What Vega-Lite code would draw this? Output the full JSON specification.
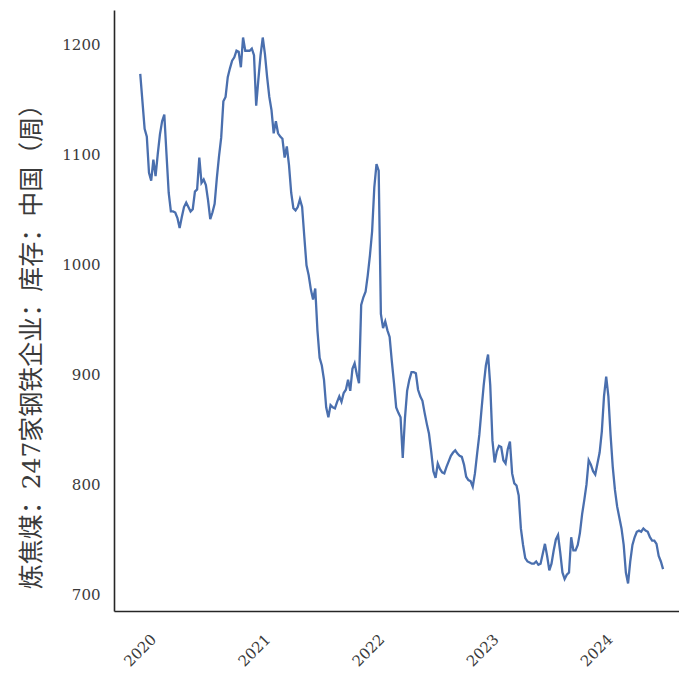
{
  "$schema": "https://vega.github.io/schema/vega-lite/v6.json",
  "autosize": {"type": "none"},
  "width": 575,
  "height": 601,
  "padding": {"left": 114, "top": 10, "right": 0, "bottom": 66},
  "background": "white",
  "config": {
    "view": {"stroke": null},
    "axis": {"grid": false, "ticks": false, "tickSize": 0, "domainColor": "#262626", "domainWidth": 1.6,
             "labelFont": "DejaVu Serif", "labelFontSize": 15, "labelColor": "#3a3a3a",
             "titleFont": "DejaVu Serif, Noto Sans CJK SC", "titleFontWeight": "normal", "titleColor": "#3a3a3a", "titleFontSize": 25}
  },
  "data": {"values": [
{"d":"2020-01-03","v":1173},{"d":"2020-01-10","v":1148},{"d":"2020-01-17","v":1123},{"d":"2020-01-24","v":1116},{"d":"2020-01-31","v":1083},{"d":"2020-02-07","v":1076},{"d":"2020-02-14","v":1095},{"d":"2020-02-21","v":1080},{"d":"2020-02-28","v":1100},{"d":"2020-03-06","v":1118},{"d":"2020-03-13","v":1130},{"d":"2020-03-20","v":1136},{"d":"2020-03-27","v":1100},{"d":"2020-04-03","v":1065},{"d":"2020-04-10","v":1048},{"d":"2020-04-17","v":1048},{"d":"2020-04-24","v":1047},{"d":"2020-05-01","v":1042},{"d":"2020-05-08","v":1033},{"d":"2020-05-15","v":1043},{"d":"2020-05-22","v":1052},{"d":"2020-05-29","v":1056},{"d":"2020-06-05","v":1052},{"d":"2020-06-12","v":1048},{"d":"2020-06-19","v":1050},{"d":"2020-06-26","v":1066},{"d":"2020-07-03","v":1068},{"d":"2020-07-10","v":1097},{"d":"2020-07-17","v":1074},{"d":"2020-07-24","v":1077},{"d":"2020-07-31","v":1072},{"d":"2020-08-07","v":1058},{"d":"2020-08-14","v":1041},{"d":"2020-08-21","v":1047},{"d":"2020-08-28","v":1055},{"d":"2020-09-04","v":1078},{"d":"2020-09-11","v":1098},{"d":"2020-09-18","v":1115},{"d":"2020-09-25","v":1148},{"d":"2020-10-02","v":1152},{"d":"2020-10-09","v":1170},{"d":"2020-10-16","v":1178},{"d":"2020-10-23","v":1185},{"d":"2020-10-30","v":1188},{"d":"2020-11-06","v":1194},{"d":"2020-11-13","v":1193},{"d":"2020-11-20","v":1179},{"d":"2020-11-27","v":1206},{"d":"2020-12-04","v":1194},{"d":"2020-12-11","v":1194},{"d":"2020-12-18","v":1194},{"d":"2020-12-25","v":1196},
{"d":"2021-01-01","v":1190},{"d":"2021-01-08","v":1144},{"d":"2021-01-15","v":1168},{"d":"2021-01-22","v":1190},{"d":"2021-01-29","v":1206},{"d":"2021-02-05","v":1191},{"d":"2021-02-12","v":1170},{"d":"2021-02-19","v":1152},{"d":"2021-02-26","v":1140},{"d":"2021-03-05","v":1119},{"d":"2021-03-12","v":1130},{"d":"2021-03-19","v":1119},{"d":"2021-03-26","v":1116},{"d":"2021-04-02","v":1114},{"d":"2021-04-09","v":1097},{"d":"2021-04-16","v":1107},{"d":"2021-04-23","v":1090},{"d":"2021-04-30","v":1065},{"d":"2021-05-07","v":1051},{"d":"2021-05-14","v":1049},{"d":"2021-05-21","v":1052},{"d":"2021-05-28","v":1059},{"d":"2021-06-04","v":1052},{"d":"2021-06-11","v":1025},{"d":"2021-06-18","v":999},{"d":"2021-06-25","v":990},{"d":"2021-07-02","v":977},{"d":"2021-07-09","v":968},{"d":"2021-07-16","v":978},{"d":"2021-07-23","v":940},{"d":"2021-07-30","v":915},{"d":"2021-08-06","v":908},{"d":"2021-08-13","v":895},{"d":"2021-08-20","v":870},{"d":"2021-08-27","v":861},{"d":"2021-09-03","v":872},{"d":"2021-09-10","v":870},{"d":"2021-09-17","v":869},{"d":"2021-09-24","v":875},{"d":"2021-10-01","v":880},{"d":"2021-10-08","v":875},{"d":"2021-10-15","v":883},{"d":"2021-10-22","v":886},{"d":"2021-10-29","v":895},{"d":"2021-11-05","v":885},{"d":"2021-11-12","v":905},{"d":"2021-11-19","v":910},{"d":"2021-11-26","v":900},{"d":"2021-12-03","v":892},{"d":"2021-12-10","v":963},{"d":"2021-12-17","v":970},{"d":"2021-12-24","v":975},{"d":"2021-12-31","v":990},
{"d":"2022-01-07","v":1008},{"d":"2022-01-14","v":1030},{"d":"2022-01-21","v":1070},{"d":"2022-01-28","v":1091},{"d":"2022-02-04","v":1085},{"d":"2022-02-11","v":955},{"d":"2022-02-18","v":942},{"d":"2022-02-25","v":948},{"d":"2022-03-04","v":940},{"d":"2022-03-11","v":934},{"d":"2022-03-18","v":912},{"d":"2022-03-25","v":892},{"d":"2022-04-01","v":870},{"d":"2022-04-08","v":865},{"d":"2022-04-15","v":861},{"d":"2022-04-22","v":824},{"d":"2022-04-29","v":860},{"d":"2022-05-06","v":885},{"d":"2022-05-13","v":895},{"d":"2022-05-20","v":902},{"d":"2022-05-27","v":902},{"d":"2022-06-03","v":901},{"d":"2022-06-10","v":886},{"d":"2022-06-17","v":880},{"d":"2022-06-24","v":876},{"d":"2022-07-01","v":865},{"d":"2022-07-08","v":855},{"d":"2022-07-15","v":846},{"d":"2022-07-22","v":830},{"d":"2022-07-29","v":812},{"d":"2022-08-05","v":806},{"d":"2022-08-12","v":819},{"d":"2022-08-19","v":814},{"d":"2022-08-26","v":811},{"d":"2022-09-02","v":810},{"d":"2022-09-09","v":816},{"d":"2022-09-16","v":821},{"d":"2022-09-23","v":826},{"d":"2022-09-30","v":829},{"d":"2022-10-07","v":831},{"d":"2022-10-14","v":828},{"d":"2022-10-21","v":826},{"d":"2022-10-28","v":825},{"d":"2022-11-04","v":818},{"d":"2022-11-11","v":807},{"d":"2022-11-18","v":804},{"d":"2022-11-25","v":803},{"d":"2022-12-02","v":798},{"d":"2022-12-09","v":810},{"d":"2022-12-16","v":828},{"d":"2022-12-23","v":845},{"d":"2022-12-30","v":868},
{"d":"2023-01-06","v":890},{"d":"2023-01-13","v":908},{"d":"2023-01-20","v":918},{"d":"2023-01-27","v":890},{"d":"2023-02-03","v":840},{"d":"2023-02-10","v":820},{"d":"2023-02-17","v":830},{"d":"2023-02-24","v":835},{"d":"2023-03-03","v":834},{"d":"2023-03-10","v":822},{"d":"2023-03-17","v":819},{"d":"2023-03-24","v":832},{"d":"2023-03-31","v":839},{"d":"2023-04-07","v":810},{"d":"2023-04-14","v":801},{"d":"2023-04-21","v":799},{"d":"2023-04-28","v":790},{"d":"2023-05-05","v":760},{"d":"2023-05-12","v":745},{"d":"2023-05-19","v":733},{"d":"2023-05-26","v":730},{"d":"2023-06-02","v":729},{"d":"2023-06-09","v":728},{"d":"2023-06-16","v":728},{"d":"2023-06-23","v":730},{"d":"2023-06-30","v":727},{"d":"2023-07-07","v":728},{"d":"2023-07-14","v":737},{"d":"2023-07-21","v":746},{"d":"2023-07-28","v":735},{"d":"2023-08-04","v":722},{"d":"2023-08-11","v":728},{"d":"2023-08-18","v":740},{"d":"2023-08-25","v":750},{"d":"2023-09-01","v":754},{"d":"2023-09-08","v":738},{"d":"2023-09-15","v":720},{"d":"2023-09-22","v":714},{"d":"2023-09-29","v":718},{"d":"2023-10-06","v":720},{"d":"2023-10-13","v":752},{"d":"2023-10-20","v":740},{"d":"2023-10-27","v":740},{"d":"2023-11-03","v":745},{"d":"2023-11-10","v":756},{"d":"2023-11-17","v":773},{"d":"2023-11-24","v":786},{"d":"2023-12-01","v":800},{"d":"2023-12-08","v":822},{"d":"2023-12-15","v":818},{"d":"2023-12-22","v":812},{"d":"2023-12-29","v":809},
{"d":"2024-01-05","v":819},{"d":"2024-01-12","v":829},{"d":"2024-01-19","v":848},{"d":"2024-01-26","v":880},{"d":"2024-02-02","v":898},{"d":"2024-02-09","v":880},{"d":"2024-02-16","v":845},{"d":"2024-02-23","v":816},{"d":"2024-03-01","v":795},{"d":"2024-03-08","v":780},{"d":"2024-03-15","v":770},{"d":"2024-03-22","v":760},{"d":"2024-03-29","v":745},{"d":"2024-04-05","v":720},{"d":"2024-04-12","v":710},{"d":"2024-04-19","v":730},{"d":"2024-04-26","v":745},{"d":"2024-05-03","v":752},{"d":"2024-05-10","v":757},{"d":"2024-05-17","v":758},{"d":"2024-05-24","v":757},{"d":"2024-05-31","v":760},{"d":"2024-06-07","v":758},{"d":"2024-06-14","v":757},{"d":"2024-06-21","v":752},{"d":"2024-06-28","v":749},{"d":"2024-07-05","v":749},{"d":"2024-07-12","v":746},{"d":"2024-07-19","v":735},{"d":"2024-07-26","v":730},{"d":"2024-08-02","v":723}
  ]},
  "mark": {"type": "line", "color": "#4a6fae", "strokeWidth": 2.3, "clip": true},
  "encoding": {
    "x": {"field": "d", "type": "temporal",
          "scale": {"type": "utc", "domain": [{"year": 2019, "month": 10, "date": 11, "utc": true}, {"year": 2024, "month": 10, "date": 24, "utc": true}], "nice": false},
          "axis": {"title": null, "format": "%Y", "tickCount": {"interval": "year", "step": 1}, "labelAngle": -45, "labelAlign": "center", "labelBaseline": "middle", "labelPadding": 39, "labelOverlap": false, "labelFlush": false}},
    "y": {"field": "v", "type": "quantitative",
          "scale": {"domain": [685, 1231], "nice": false, "zero": false},
          "axis": {"title": "炼焦煤：247家钢铁企业：库存：中国（周）", "format": "d", "values": [700, 800, 900, 1000, 1100, 1200], "labelPadding": 14, "titlePadding": 17, "titleY": 330}}
  }
}
